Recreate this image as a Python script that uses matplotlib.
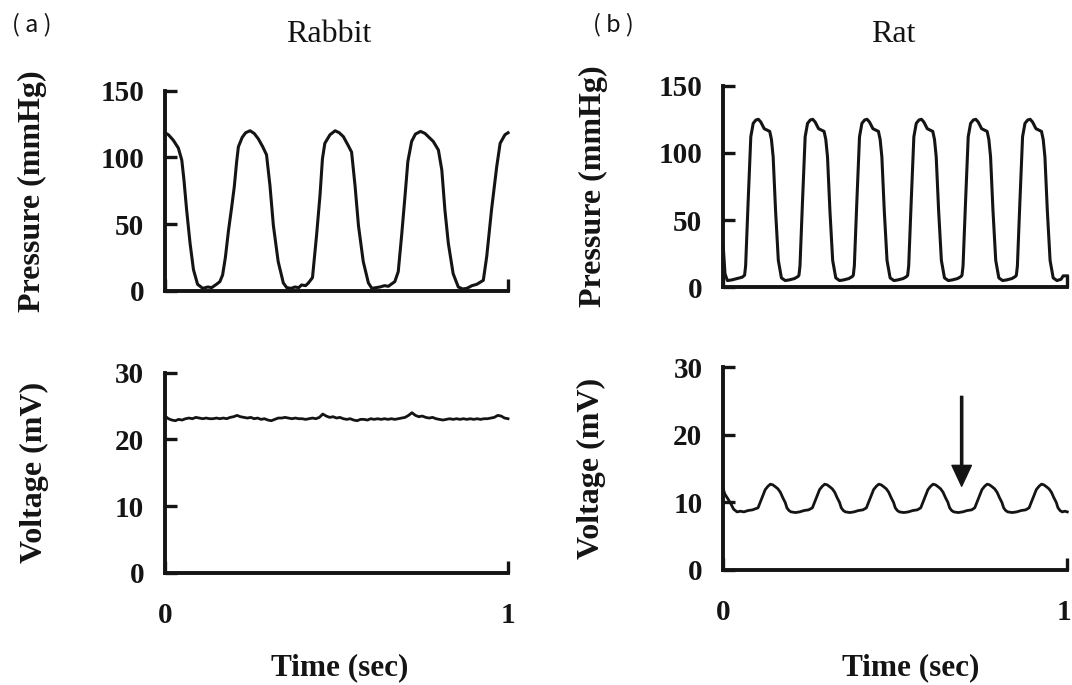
import numpy as np
import matplotlib
matplotlib.use("Agg")
import matplotlib.pyplot as plt
import matplotlib.transforms as mtransforms

# arterial pressure traces (mmHg) over one second
rabbit_p_t = [0.000, 0.010, 0.024, 0.039, 0.049, 0.055, 0.063, 0.073, 0.083, 0.095,
              0.110, 0.125, 0.136, 0.150, 0.160, 0.168, 0.176, 0.185, 0.194, 0.202,
              0.209, 0.214, 0.225, 0.235, 0.248, 0.260, 0.272, 0.285, 0.296, 0.306,
              0.316, 0.330, 0.345, 0.355, 0.368, 0.379, 0.390, 0.398, 0.410, 0.418,
              0.430, 0.442, 0.452, 0.459, 0.466, 0.481, 0.496, 0.508, 0.520, 0.534,
              0.544, 0.554, 0.564, 0.578, 0.593, 0.603, 0.615, 0.627, 0.640, 0.651,
              0.670, 0.680, 0.690, 0.700, 0.708, 0.719, 0.730, 0.745, 0.758, 0.770,
              0.782, 0.797, 0.807, 0.816, 0.826, 0.840, 0.855, 0.868, 0.880, 0.895,
              0.909, 0.928, 0.938, 0.952, 0.967, 0.977, 0.991, 1.000]
rabbit_p = [118.5, 117, 113, 107, 98, 84, 61, 36, 16, 5,
            2, 3, 2.5, 5, 7, 12, 25, 45, 62, 78,
            97, 108, 115, 118.5, 120, 118, 114, 108, 102, 79,
            49, 22, 6, 2.5, 2, 3, 2.5, 4.5, 4, 6,
            10, 42, 72, 99, 110.6, 117, 120, 118.5, 115.6, 109,
            104, 79, 49, 22, 6, 2, 2.5, 3, 4, 3.5,
            7, 14.5, 42, 72, 97, 112, 117.5, 119.5, 118, 115,
            112, 105.6, 90.6, 60.7, 35.7, 13, 3, 1.5, 2, 4,
            5, 8, 26, 61, 93, 110.6, 117, 118.5]

rat_p_t = [0.000, 0.005, 0.012, 0.025, 0.040, 0.055, 0.062,
           0.065, 0.072, 0.080, 0.087, 0.095, 0.102, 0.109, 0.119, 0.127, 0.135, 0.140,
           0.145, 0.152, 0.160, 0.169, 0.180, 0.192, 0.207, 0.217, 0.220,
           0.223, 0.230, 0.238, 0.245, 0.253, 0.260, 0.267, 0.277, 0.285, 0.293, 0.298,
           0.303, 0.310, 0.318, 0.327, 0.338, 0.350, 0.365, 0.375, 0.378,
           0.381, 0.388, 0.396, 0.403, 0.411, 0.418, 0.425, 0.435, 0.443, 0.451, 0.456,
           0.461, 0.468, 0.476, 0.485, 0.496, 0.508, 0.523, 0.533, 0.536,
           0.539, 0.546, 0.554, 0.561, 0.569, 0.576, 0.583, 0.593, 0.601, 0.609, 0.614,
           0.619, 0.626, 0.634, 0.643, 0.654, 0.666, 0.681, 0.691, 0.694,
           0.697, 0.704, 0.712, 0.719, 0.727, 0.734, 0.741, 0.751, 0.759, 0.767, 0.772,
           0.777, 0.784, 0.792, 0.801, 0.812, 0.824, 0.839, 0.849, 0.852,
           0.855, 0.862, 0.870, 0.877, 0.885, 0.892, 0.899, 0.909, 0.917, 0.925, 0.930,
           0.935, 0.942, 0.950, 0.959, 0.970, 0.982, 0.988, 1.000]
rat_p = [30, 10, 5, 5.5, 6.5, 7.5, 9,
         16, 62, 112, 122, 124.5, 125, 123, 118, 117, 116, 110,
         97, 57, 20, 7, 5, 5.5, 6.5, 8, 9,
         16, 62, 112, 122, 124.5, 125, 123, 118, 117, 116, 110,
         97, 57, 20, 7, 5, 5.5, 6.5, 8, 9,
         16, 62, 112, 122, 124.5, 125, 123, 118, 117, 116, 110,
         97, 57, 20, 7, 5, 5.5, 6.5, 8, 9,
         16, 62, 112, 122, 124.5, 125, 123, 118, 117, 116, 110,
         97, 57, 20, 7, 5, 5.5, 6.5, 8, 9,
         16, 62, 112, 122, 124.5, 125, 123, 118, 117, 116, 110,
         97, 57, 20, 7, 5, 5.5, 6.5, 8, 9,
         16, 62, 112, 122, 124.5, 125, 123, 118, 117, 116, 110,
         97, 57, 20, 7, 5, 6, 8.5, 8.5]

# sensor output (mV); rabbit sampled every 10 ms
rabbit_v = [23.5, 23.1, 22.9, 22.8, 23.0, 22.9, 23.1, 23.2, 23.1, 23.3,
            23.2, 23.1, 23.2, 23.1, 23.1, 23.2, 23.1, 23.2, 23.1, 23.3,
            23.4, 23.6, 23.4, 23.3, 23.2, 23.3, 23.1, 23.2, 23.0, 23.1,
            22.9, 22.8, 23.0, 23.2, 23.2, 23.3, 23.2, 23.1, 23.2, 23.1,
            23.1, 23.0, 23.1, 23.2, 23.1, 23.3, 23.8, 23.5, 23.3, 23.4,
            23.2, 23.3, 23.1, 23.0, 23.1, 22.9, 22.8, 23.0, 23.0, 22.9,
            23.1, 23.0, 23.1, 23.0, 23.1, 23.0, 23.1, 23.0, 23.1, 23.2,
            23.3, 23.6, 24.0, 23.6, 23.4, 23.5, 23.3, 23.2, 23.3, 23.1,
            23.0, 22.9, 23.0, 23.1, 23.0, 23.1, 23.0, 23.1, 23.0, 23.1,
            23.0, 23.1, 23.0, 23.1, 23.1, 23.2, 23.3, 23.6, 23.5, 23.2,
            23.1]
rabbit_v_t = np.linspace(0, 1, len(rabbit_v))

rat_v_t = [0.000, 0.004, 0.010, 0.020, 0.030, 0.040, 0.050, 0.060, 0.072, 0.085,
           0.101, 0.108, 0.115, 0.122, 0.130, 0.137, 0.144, 0.152, 0.159, 0.166,
           0.173, 0.180, 0.185, 0.191, 0.197, 0.210, 0.222, 0.235, 0.248,
           0.259, 0.266, 0.273, 0.280, 0.288, 0.295, 0.302, 0.310, 0.317, 0.324,
           0.331, 0.338, 0.343, 0.349, 0.355, 0.368, 0.380, 0.393, 0.406,
           0.416, 0.423, 0.430, 0.437, 0.445, 0.452, 0.459, 0.467, 0.474, 0.481,
           0.488, 0.495, 0.500, 0.506, 0.512, 0.525, 0.538, 0.551, 0.564,
           0.574, 0.581, 0.588, 0.595, 0.603, 0.610, 0.617, 0.625, 0.632, 0.639,
           0.646, 0.653, 0.658, 0.664, 0.670, 0.683, 0.696, 0.709, 0.722,
           0.731, 0.738, 0.745, 0.752, 0.760, 0.767, 0.774, 0.782, 0.789, 0.796,
           0.803, 0.810, 0.815, 0.821, 0.827, 0.840, 0.853, 0.866, 0.879,
           0.889, 0.896, 0.903, 0.910, 0.918, 0.925, 0.932, 0.940, 0.947, 0.954,
           0.961, 0.968, 0.973, 0.979, 0.985, 0.993, 1.000]
rat_v = [12.0, 11.3, 10.8, 10.0, 9.0, 8.6, 8.7, 8.6, 8.8, 8.9,
         9.2, 10.1, 11.0, 11.9, 12.4, 12.7, 12.6, 12.3, 12.0, 11.5,
         10.7, 10.0, 9.2, 8.8, 8.6, 8.5, 8.6, 8.8, 8.9,
         9.2, 10.1, 11.0, 11.9, 12.4, 12.7, 12.6, 12.3, 12.0, 11.5,
         10.7, 10.0, 9.2, 8.8, 8.6, 8.5, 8.6, 8.8, 8.9,
         9.2, 10.1, 11.0, 11.9, 12.4, 12.7, 12.6, 12.3, 12.0, 11.5,
         10.7, 10.0, 9.2, 8.8, 8.6, 8.5, 8.6, 8.8, 8.9,
         9.2, 10.1, 11.0, 11.9, 12.4, 12.7, 12.6, 12.3, 12.0, 11.5,
         10.7, 10.0, 9.2, 8.8, 8.6, 8.5, 8.6, 8.8, 8.9,
         9.2, 10.1, 11.0, 11.9, 12.4, 12.7, 12.6, 12.3, 12.0, 11.5,
         10.7, 10.0, 9.2, 8.8, 8.6, 8.5, 8.6, 8.8, 8.9,
         9.2, 10.1, 11.0, 11.9, 12.4, 12.7, 12.6, 12.3, 12.0, 11.5,
         10.7, 10.0, 9.2, 8.8, 8.6, 8.7, 8.6]

arrow_t = 0.693
arrow_from, arrow_to = 25.7, 12.4

p_ticks = [0, 50, 100, 150]
v_ticks = [0, 10, 20, 30]
t_ticks = [0, 1]

ink = "#141414"
plt.rcParams["font.family"] = ["Liberation Serif", "DejaVu Serif"]
plt.rcParams["font.weight"] = "bold"
plt.rcParams["font.size"] = 21

fig = plt.figure(figsize=(10.72, 6.85), dpi=100)
ax_a1 = fig.add_axes([0.1539, 0.5752, 0.3200, 0.2924])
ax_b1 = fig.add_axes([0.6747, 0.5806, 0.3209, 0.2943])
ax_a2 = fig.add_axes([0.1539, 0.1639, 0.3200, 0.2920])
ax_b2 = fig.add_axes([0.6747, 0.1679, 0.3209, 0.2959])


def style(ax, yticks, ylabel, xlabels, label_x):
    ax.set_xlim(0, 1)
    ax.set_ylim(yticks[0], yticks[-1])
    for s in ["top", "right"]:
        ax.spines[s].set_visible(False)
    for s in ["left", "bottom"]:
        ax.spines[s].set_linewidth(2.8)
        ax.spines[s].set_color(ink)
    ax.set_yticks(yticks)
    ax.set_xticks(t_ticks)
    ax.tick_params(axis="both", direction="in", length=8.6, width=2.4,
                   color=ink, labelcolor=ink)
    ax.tick_params(axis="y", pad=15)
    ax.tick_params(axis="x", pad=21)
    if not xlabels:
        ax.set_xticklabels([])
    ax.set_ylabel(ylabel, fontweight="bold", fontsize=23, color=ink)
    ax.yaxis.set_label_coords(label_x, 0.5)


style(ax_a1, p_ticks, "Pressure (mmHg)", False, -0.344)
style(ax_b1, p_ticks, "Pressure (mmHg)", False, -0.335)
style(ax_a2, v_ticks, "Voltage (mV)", True, -0.338)
style(ax_b2, v_ticks, "Voltage (mV)", True, -0.34)

# keep the right-hand "1" inside the page edge
shift = mtransforms.ScaledTranslation(-3 / 100, 0, fig.dpi_scale_trans)
last = ax_b2.get_xticklabels()[-1]
last.set_transform(last.get_transform() + shift)

ax_a1.plot(rabbit_p_t, rabbit_p, color=ink, lw=2.2, clip_on=False)
ax_b1.plot(rat_p_t, rat_p, color=ink, lw=2.2, clip_on=False)
ax_a2.plot(rabbit_v_t, rabbit_v, color=ink, lw=2.0, clip_on=False)
ax_b2.plot(rat_v_t, rat_v, color=ink, lw=2.0, clip_on=False)

ax_b2.annotate("", xy=(arrow_t, arrow_to), xytext=(arrow_t, arrow_from),
               arrowprops=dict(width=1.6, headwidth=14, headlength=15,
                               shrink=0, color=ink))

fig.text(329 / 1072, 1 - 42 / 685, "Rabbit", ha="center", va="baseline",
         fontsize=23, fontweight="normal", color=ink)
fig.text(893 / 1072, 1 - 42 / 685, "Rat", ha="center", va="baseline",
         fontsize=23, fontweight="normal", color=ink)
fig.text(32 / 1072, 1 - 25 / 685, "( a )", ha="center", va="center", fontsize=17,
         fontweight="normal", family=["Noto Sans CJK SC", "DejaVu Sans"], color=ink)
fig.text(613 / 1072, 1 - 25 / 685, "( b )", ha="center", va="center", fontsize=17,
         fontweight="normal", family=["Noto Sans CJK SC", "DejaVu Sans"], color=ink)
fig.text(340 / 1072, 1 - 668 / 685, "Time (sec)", ha="center", va="center",
         fontsize=22.5, fontweight="bold", color=ink)
fig.text(911 / 1072, 1 - 668 / 685, "Time (sec)", ha="center", va="center",
         fontsize=22.5, fontweight="bold", color=ink)

fig.savefig("out.png", dpi=100, facecolor="white")
